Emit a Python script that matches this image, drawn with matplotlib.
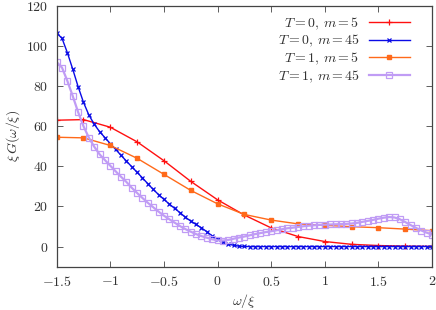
import numpy as np
import matplotlib
matplotlib.use("Agg")
import matplotlib.pyplot as plt

plt.rcParams['font.family'] = 'serif'
plt.rcParams['font.serif'] = ['cmr10']
plt.rcParams['mathtext.fontset'] = 'cm'
plt.rcParams['axes.formatter.use_mathtext'] = True

# coarse grid (T, m=5 runs)
x_coarse = [-1.5, -1.25, -1.0, -0.75, -0.5, -0.25, 0.0, 0.25, 0.5, 0.75, 1.0, 1.25, 1.5, 1.75, 2.0]
t0_m5 = [63.0, 63.3, 59.5, 52.2, 42.8, 32.5, 23.3, 15.7, 9.3, 5.0, 2.5, 1.1, 0.5, 0.2, 0.1]
t1_m5 = [54.5, 54.2, 50.4, 44.0, 36.0, 28.0, 21.3, 16.0, 13.2, 11.3, 10.6, 9.9, 9.4, 8.7, 7.9]

# fine grid (m=45 runs), step 0.05
x_fine = [round(-1.5 + 0.05 * k, 2) for k in range(71)]
t0_m45 = [106.5, 103.8, 96.6, 88.4, 79.7, 71.9, 65.6, 61.0, 57.3, 54.3,
          51.3, 48.4, 45.5, 42.6, 39.8, 37.0, 34.2, 31.3, 28.5, 25.9,
          23.5, 21.2, 19.0, 16.9, 14.6, 12.7, 11.0, 9.3, 7.4, 5.3,
          3.6, 2.3, 1.3, 0.6, 0.2, 0.05, 0.0, 0.0, 0.0, 0.0,
          0.0, 0.0, 0.0, 0.0, 0.0, 0.0, 0.0, 0.0, 0.0, 0.0,
          0.0, 0.0, 0.0, 0.0, 0.0, 0.0, 0.0, 0.0, 0.0, 0.0,
          0.0, 0.0, 0.0, 0.0, 0.0, 0.0, 0.0, 0.0, 0.0, 0.0, 0.0]
t1_m45 = [92.0, 89.2, 82.5, 75.0, 67.0, 60.0, 54.3, 49.8, 46.0, 43.1,
          40.3, 37.5, 34.8, 32.2, 29.3, 26.7, 24.2, 21.8, 19.6, 17.4,
          15.4, 13.6, 11.9, 10.2, 8.7, 7.4, 6.2, 5.2, 4.4, 3.6,
          3.1, 3.0, 3.3, 3.9, 4.5, 5.0, 5.6, 6.2, 6.7, 7.2,
          7.6, 8.1, 8.6, 9.1, 9.4, 9.8, 10.1, 10.4, 10.6, 10.8,
          10.9, 11.0, 11.1, 11.2, 11.3, 11.5, 11.8, 12.3, 12.8, 13.3,
          13.9, 14.4, 14.7, 14.5, 13.6, 12.2, 10.7, 9.3, 8.0, 6.9, 6.0]

labels = [r'$T=0,\, m=5$', r'$T=0,\, m=45$', r'$T=1,\, m=5$', r'$T=1,\, m=45$']

fig = plt.figure(figsize=(4.36, 3.10), dpi=100)
ax = fig.add_axes([0.130, 0.140, 0.861, 0.841])

ax.plot(x_coarse, t0_m5, color='#ff1010', lw=1.0, marker='+', ms=5, mew=0.9, label=labels[0])
ax.plot(x_fine, t0_m45, color='#0a0ae6', lw=1.0, marker='x', ms=3.5, mew=0.9, label=labels[1])
ax.plot(x_coarse, t1_m5, color='#ff6a1a', lw=1.0, marker='s', ms=3.5, label=labels[2])
ax.plot(x_fine, t1_m45, color='#c09cf5', lw=1.6, marker='s', ms=4.5, mfc='none', mew=0.9, label=labels[3])

ax.set_xlim(-1.5, 2)
ax.set_ylim(-10, 120)
ax.set_xticks([-1.5, -1, -0.5, 0, 0.5, 1, 1.5, 2])
ax.set_xticklabels(['$-1.5$', '$-1$', '$-0.5$', '$0$', '$0.5$', '$1$', '$1.5$', '$2$'])
ax.set_yticks([0, 20, 40, 60, 80, 100, 120])
ax.set_yticklabels(['$0$', '$20$', '$40$', '$60$', '$80$', '$100$', '$120$'])
ax.tick_params(direction='in', top=True, right=True, length=4, width=0.6, labelsize=10,
               colors='#444444', labelcolor='#333333', pad=6)
for s in ax.spines.values():
    s.set_linewidth(0.9)
    s.set_color('#444444')

ax.set_xlabel(r'$\omega/\xi$', fontsize=10, color='#333333', labelpad=2)
ax.set_ylabel(r'$\xi\, G(\omega/\xi)$', fontsize=10, color='#333333', labelpad=3)

leg = ax.legend(loc='upper right', bbox_to_anchor=(0.955, 0.985), frameon=False, markerfirst=False,
                fontsize=10, handlelength=2.9, handletextpad=0.7, labelspacing=0.1, borderaxespad=0)
for t in leg.get_texts():
    t.set_color('#333333')

fig.savefig('out.png', dpi=100)
